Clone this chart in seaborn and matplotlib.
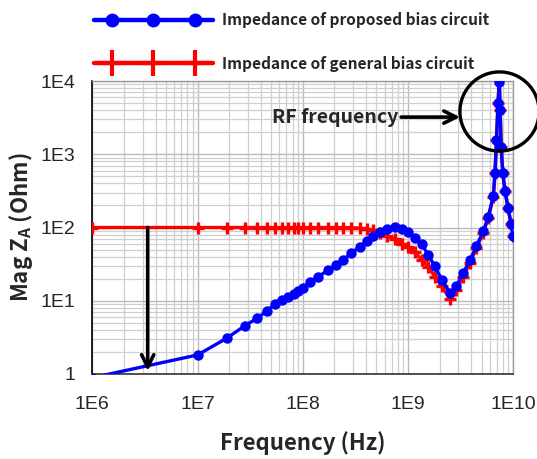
import numpy as np
import pandas as pd
import matplotlib
matplotlib.use("Agg")
import matplotlib.pyplot as plt
import seaborn as sns
from matplotlib.lines import Line2D
from matplotlib.legend_handler import HandlerLine2D, HandlerTuple

# Frequency sweep (Hz) and impedance magnitudes (Ohm)
freq = [1.0e6, 1.0e7, 1.9e7, 2.8e7, 3.7e7, 4.6e7, 5.5e7, 6.4e7, 7.3e7, 8.2e7,
        9.1e7, 1.0e8, 1.17e8, 1.40e8, 1.74e8, 2.09e8, 2.43e8, 2.88e8, 3.47e8,
        4.05e8, 4.68e8, 5.37e8, 6.27e8, 7.52e8, 8.71e8, 1.0e9, 1.16e9, 1.35e9,
        1.55e9, 1.80e9, 2.09e9, 2.51e9, 2.88e9, 3.35e9, 3.89e9, 4.47e9, 5.19e9,
        5.79e9, 6.46e9, 6.70e9, 6.92e9, 7.16e9, 7.36e9, 7.50e9, 7.67e9, 7.94e9,
        8.32e9, 8.91e9, 9.55e9, 1.0e10]
z_proposed = [0.89, 1.82, 3.09, 4.54, 5.79, 7.36, 9.10, 10.2, 11.2, 12.5,
              13.5, 14.8, 18.2, 21.4, 26.0, 30.9, 36.3, 44.7, 54.3,
              64.6, 75.9, 87.1, 95.5, 102, 95.5, 87.1, 72.4, 58.9,
              42.7, 29.5, 19.5, 12.6, 15.8, 24.0, 36.3, 56.2, 89.1,
              141, 269, 562, 1585, 5012, 9772, 3981, 1259, 562,
              316, 186, 110, 75.9]
z_general = [100, 100, 100, 100, 100, 100, 100, 100, 100, 100,
             100, 100, 100, 100, 100, 100, 99.8, 99.5, 97.7,
             95.5, 91.2, 85.1, 77.6, 69.2, 60.3, 53.7, 45.7, 36.3,
             28.8, 21.4, 15.8, 10.5, 14.1, 21.4, 33.1, 52.5, 85.1,
             135, 263, 550, 1585, 5012, 10500, 3981, 1259, 562,
             316, 186, 110, 75.9]
label_proposed = "Impedance of proposed bias circuit"
label_general = "Impedance of general bias circuit"
y_ticks = [1, 10, 100, 1000, 10000]
y_ticklabels = ["1", "1E1", "1E2", "1E3", "1E4"]
x_ticks = [1e6, 1e7, 1e8, 1e9, 1e10]
x_ticklabels = ["1E6", "1E7", "1E8", "1E9", "1E10"]
arrow_freq = 3.36e6      # frequency of the vertical arrow
rf_text_pos = (8.0e8, 3215)
rf_arrow_tip = (3.12e9, 3215)
rf_circle_center = (7.36e9, 3880)

df = pd.DataFrame({"freq": freq, "proposed": z_proposed, "general": z_general})

sns.set_style("white")
text_font = ["Noto Sans CJK KR", "DejaVu Sans"]
plt.rcParams["font.family"] = text_font

fig = plt.figure(figsize=(5.37, 4.59), dpi=100)
ax = fig.add_axes([92.3 / 537, 85 / 459, 421 / 537, 293 / 459])

ax.set_xscale("log")
ax.set_yscale("log")

# General bias circuit (red, + markers)
sns.lineplot(data=df, x="freq", y="general", ax=ax, color="#ff0000",
             linewidth=2.4, marker="+", markersize=8, markeredgewidth=2.4,
             markeredgecolor="#ff0000", zorder=3)
# Proposed bias circuit (blue, circle markers)
sns.lineplot(data=df, x="freq", y="proposed", ax=ax, color="#0000ff",
             linewidth=2.4, marker="o", markersize=7.5, markeredgewidth=0,
             zorder=4)

ax.set_xlim(1e6, 1e10)
ax.set_ylim(1, 1e4)

# Grid
ax.grid(True, which="major", color="#b9b9b9", linewidth=1.0)
ax.grid(True, which="minor", color="#cfcfcf", linewidth=0.9)
ax.set_axisbelow(True)

ax.set_xticks(x_ticks)
ax.set_xticklabels(x_ticklabels)
ax.set_yticks(y_ticks)
ax.set_yticklabels(y_ticklabels)
ax.tick_params(axis="both", which="major", direction="out", length=10,
               width=1.2, color="#333333", labelsize=14)
ax.tick_params(axis="x", which="major", pad=6)
ax.tick_params(axis="y", which="major", pad=2)
ax.tick_params(axis="both", which="minor", length=0)
for lab in ax.get_xticklabels() + ax.get_yticklabels():
    lab.set_family(["Liberation Sans", "DejaVu Sans"])

for side in ["top", "right"]:
    ax.spines[side].set_color("#999999")
    ax.spines[side].set_linewidth(1.0)
ax.spines["left"].set_color("#000000")
ax.spines["left"].set_linewidth(1.2)
ax.spines["bottom"].set_color("#333333")
ax.spines["bottom"].set_linewidth(1.2)
for side in ax.spines:
    ax.spines[side].set_visible(True)

ax.set_xlabel("Frequency (Hz)", fontsize=16, fontweight="bold", labelpad=13)
ax.set_ylabel(r"Mag Z$_\mathregular{A}$ (Ohm)", fontsize=16,
              fontweight="bold", labelpad=4)

# Vertical arrow from the flat general curve down to the proposed curve
ax.annotate("", xy=(arrow_freq, 1.1), xytext=(arrow_freq, 100),
            arrowprops=dict(arrowstyle="->", color="black", lw=2.6,
                            mutation_scale=22, shrinkA=0, shrinkB=0),
            zorder=6)

# RF frequency annotation and circle
ax.plot([rf_circle_center[0]], [rf_circle_center[1]], marker="o",
        markersize=57, markerfacecolor="none", markeredgecolor="black",
        markeredgewidth=2.4, clip_on=False, zorder=7)
ax.annotate("RF frequency", xy=rf_arrow_tip, xytext=rf_text_pos,
            ha="right", va="center", fontsize=14, fontweight="bold",
            arrowprops=dict(arrowstyle="->", color="black", lw=2.6,
                            mutation_scale=22, shrinkA=0, shrinkB=0),
            zorder=7)

# Legend above the plot: full-width line plus three inset markers
leg_fs = 11.1
line_prop = Line2D([], [], color="#0000ff", linewidth=3.2)
mark_prop = Line2D([], [], color="#0000ff", linestyle="none", marker="o",
                   markersize=10, markeredgewidth=0)
line_gen = Line2D([], [], color="#ff0000", linewidth=3.2)
mark_gen = Line2D([], [], color="#ff0000", linestyle="none", marker="+",
                  markersize=19, markeredgewidth=3)
hm = {line_prop: HandlerLine2D(numpoints=2, marker_pad=0),
      line_gen: HandlerLine2D(numpoints=2, marker_pad=0),
      mark_prop: HandlerLine2D(numpoints=3, marker_pad=1.17),
      mark_gen: HandlerLine2D(numpoints=3, marker_pad=1.17),
      tuple: HandlerTuple(ndivide=1, pad=0)}
fig.legend([(line_prop, mark_prop), (line_gen, mark_gen)],
           [label_proposed, label_general],
           loc="upper left", bbox_to_anchor=(94 / 537, 1 - 12 / 459),
           frameon=False, prop={"weight": "bold", "size": leg_fs},
           handlelength=7.7, handletextpad=0.6, labelspacing=1.8,
           borderpad=0, borderaxespad=0, handler_map=hm)

fig.savefig("out.png", dpi=100)
